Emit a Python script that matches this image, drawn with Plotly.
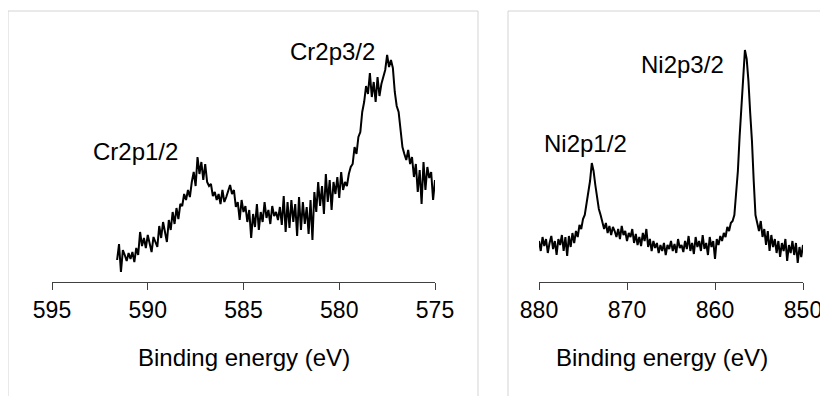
import numpy as np
import plotly.graph_objects as go

# ---- Cr 2p spectrum (binding energy grid 591.6 -> 575.0 eV, step 0.1) ----
cr_start, cr_step = 591.6, 0.1
cr_intensity = [
    22, 38, 10, 32, 27, 21, 29, 23, 30, 20,
    34, 27, 50, 36, 44, 34, 47, 38, 30, 45,
    40, 35, 56, 44, 60, 48, 40, 62, 52, 70,
    58, 74, 63, 78, 76, 88, 82, 92, 85, 100,
    110, 96, 125, 108, 120, 102, 118, 100, 96, 98,
    86, 90, 82, 88, 78, 92, 80, 85, 90, 97,
    88, 92, 75, 80, 62, 82, 70, 76, 60, 72,
    44, 68, 55, 78, 52, 70, 60, 80, 64, 72,
    58, 76, 66, 70, 62, 75, 57, 86, 50, 80,
    54, 82, 60, 78, 46, 85, 52, 80, 58, 75,
    48, 82, 42, 90, 70, 100, 76, 96, 68, 108,
    80, 102, 72, 100, 88, 105, 84, 110, 92, 100,
    96, 108, 115, 118, 135, 128, 145, 150, 170, 180,
    196, 188, 209, 185, 200, 180, 205, 186, 198, 205,
    212, 227, 215, 222, 214, 190, 176, 170, 150, 135,
    128, 122, 132, 118, 125, 105, 118, 90, 112, 78,
    120, 92, 115, 104, 110, 82, 102,
]

# ---- Ni 2p spectrum (binding energy grid 880.0 -> 850.0 eV, step 0.2) ----
ni_start, ni_step = 880.0, 0.2
ni_intensity = [
    40, 30, 44, 35, 42, 28, 38, 45, 32, 40,
    26, 42, 36, 46, 30, 44, 25, 45, 34, 48,
    38, 50, 44, 56, 52, 62, 66, 78, 88, 100,
    118, 110, 96, 84, 72, 66, 60, 52, 58, 48,
    55, 46, 54, 50, 44, 52, 42, 55, 46, 50,
    40, 48, 44, 52, 38, 47, 36, 44, 35, 48,
    40, 52, 34, 42, 30, 40, 33, 38, 28, 36,
    30, 38, 26, 36, 32, 40, 30, 37, 28, 42,
    33, 36, 29, 40, 32, 45, 30, 38, 27, 44,
    34, 40, 30, 46, 32, 38, 26, 44, 34, 40,
    22, 42, 36, 45, 40, 48, 44, 54, 50, 58,
    60, 66, 88, 110, 145, 175, 205, 231, 222, 200,
    168, 140, 100, 66, 58, 50, 60, 44, 52, 36,
    50, 30, 46, 34, 42, 28, 40, 24, 38, 30,
    42, 20, 36, 28, 40, 26, 38, 18, 34, 24,
    36,
]

cr_energy = np.round(cr_start - cr_step * np.arange(len(cr_intensity)), 2)
ni_energy = np.round(ni_start - ni_step * np.arange(len(ni_intensity)), 2)

cr_ticks = [595, 590, 585, 580, 575]
ni_ticks = [880, 870, 860, 850]

peak_labels = [
    ("Cr2p1/2", 135, 151),
    ("Cr2p3/2", 332, 51),
    ("Ni2p1/2", 585, 143),
    ("Ni2p3/2", 682, 64),
]
axis_titles = [("Binding energy (eV)", 244, 357), ("Binding energy (eV)", 662, 357)]

# page body adds an 8px offset; figure coordinates are given in screen pixels
OFF = 8
W, H = 828 - OFF, 396 - OFF
FONT = "Arial, Liberation Sans, sans-serif"

def px(x):
    return (x - OFF) / W

def py(y):
    return (H - (y - OFF)) / H

fig = go.Figure()
fig.add_trace(go.Scatter(x=cr_energy, y=cr_intensity, mode="lines",
                         line=dict(color="black", width=2), xaxis="x", yaxis="y",
                         showlegend=False))
fig.add_trace(go.Scatter(x=ni_energy, y=ni_intensity, mode="lines",
                         line=dict(color="black", width=2), xaxis="x2", yaxis="y2",
                         showlegend=False))

ydom = [py(282), py(40)]
common_x = dict(showline=True, linecolor="#404040", linewidth=1, ticks="outside",
                ticklen=7, tickcolor="#404040", tickwidth=1, showgrid=False,
                zeroline=False, tickfont=dict(family=FONT, size=23, color="black"),
                fixedrange=True, automargin=False)

fig.update_layout(
    width=W, height=H,
    margin=dict(l=0, r=0, t=0, b=0, autoexpand=False),
    paper_bgcolor="white", plot_bgcolor="white",
    xaxis=dict(domain=[px(52), px(435)], range=[595, 575], tickvals=cr_ticks,
               anchor="y", **common_x),
    yaxis=dict(domain=ydom, range=[0, 242], visible=False, anchor="x"),
    xaxis2=dict(domain=[px(539), px(803)], range=[880, 850], tickvals=ni_ticks,
                anchor="y2", **common_x),
    yaxis2=dict(domain=ydom, range=[-1, 241], visible=False, anchor="x2"),
    showlegend=False,
)

for text, x, y in peak_labels + axis_titles:
    fig.add_annotation(text=text, x=px(x), y=py(y), xref="paper", yref="paper",
                       xanchor="center", yanchor="middle", showarrow=False,
                       font=dict(family=FONT, size=24, color="black"))

# light panel borders
border = dict(color="#d4d4d4", width=1)
for x0, x1 in [(8, 478), (508, 828)]:
    fig.add_shape(type="line", xref="paper", yref="paper", x0=px(x0), x1=px(x1),
                  y0=py(11), y1=py(11), line=border)
    fig.add_shape(type="line", xref="paper", yref="paper", x0=px(x0), x1=px(x0),
                  y0=py(11), y1=0, line=border)
fig.add_shape(type="line", xref="paper", yref="paper", x0=px(478), x1=px(478),
              y0=py(11), y1=0, line=border)

fig.write_html("out.html")
